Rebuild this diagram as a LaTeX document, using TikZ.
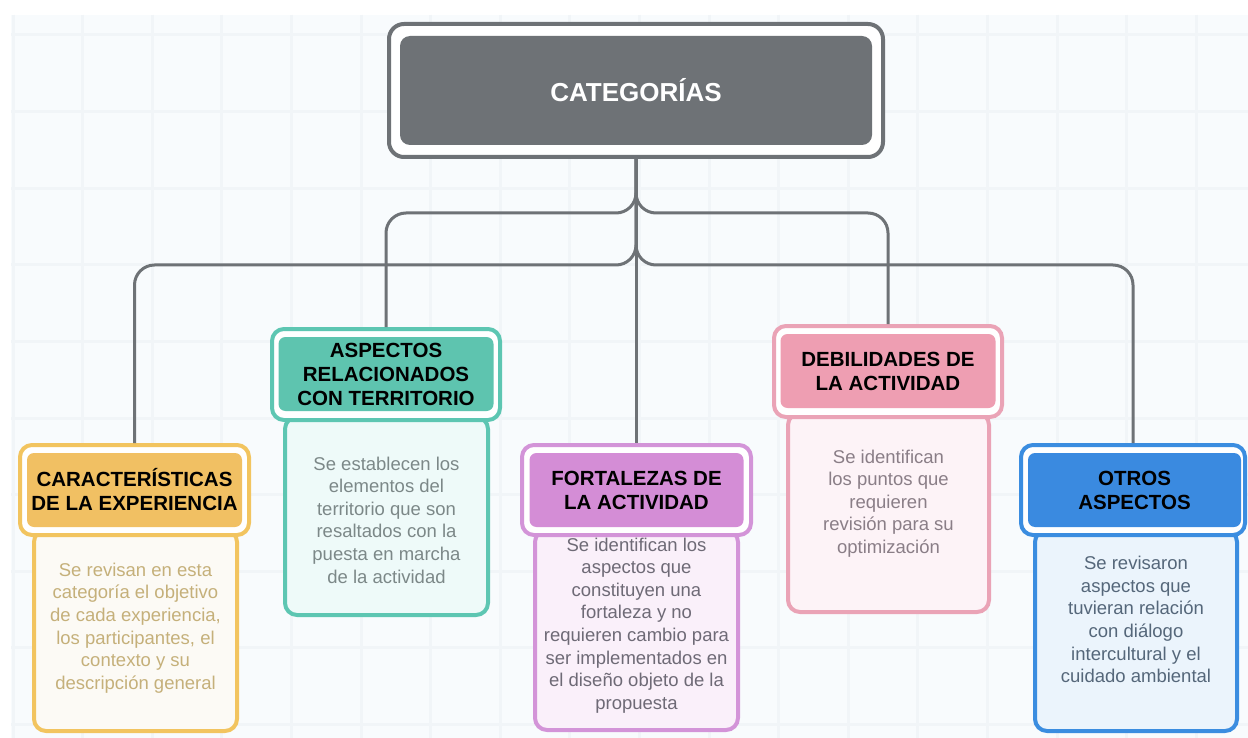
\documentclass[tikz,border=0pt]{standalone}
\usepackage{fontspec}
\setmainfont{Liberation Sans}
\definecolor{lineg}{HTML}{6E7276}
\definecolor{bgc}{HTML}{F8FBFD}
\definecolor{gridc}{HTML}{F1F5F8}
\definecolor{goldB}{HTML}{F2C45F}
\definecolor{goldF}{HTML}{F1C063}
\definecolor{goldBg}{HTML}{FCFAF5}
\definecolor{goldT}{HTML}{C5B07A}
\definecolor{tealB}{HTML}{5DC6B2}
\definecolor{tealF}{HTML}{5EC4AF}
\definecolor{tealBg}{HTML}{EEFAF9}
\definecolor{tealT}{HTML}{7C8888}
\definecolor{purB}{HTML}{D394D8}
\definecolor{purF}{HTML}{D48DD6}
\definecolor{purBg}{HTML}{FAF0FA}
\definecolor{purT}{HTML}{6E6A76}
\definecolor{pinkB}{HTML}{EAA3B6}
\definecolor{pinkF}{HTML}{EE9EB2}
\definecolor{pinkBg}{HTML}{FDF3F7}
\definecolor{pinkT}{HTML}{8A7E87}
\definecolor{bluB}{HTML}{3B8DE0}
\definecolor{bluF}{HTML}{3A8AE0}
\definecolor{bluBg}{HTML}{EBF4FC}
\definecolor{bluT}{HTML}{55677A}
\newcommand\headfont{\bfseries\fontsize{20.5}{24}\selectfont}
\newcommand\descfont{\fontsize{18.5}{22.6}\selectfont}
\begin{document}
\begin{tikzpicture}[x=1pt,y=-1pt,
  conn/.style={draw=lineg, line width=3pt, rounded corners=20pt},
  frame/.style={draw=#1, line width=4pt, fill=white, rounded corners=12pt, inner sep=0pt},
  head/.style={fill=#1, rounded corners=7pt, inner sep=0pt, align=center, font=\headfont, text=black},
  descbox/.style={draw=#1, line width=4pt, rounded corners=12pt, inner sep=0pt},
  desctext/.style={align=center, font=\descfont, text=#1, inner sep=0pt},
]
\useasboundingbox (0,0) rectangle (1248,738);
\fill[white] (0,0) rectangle (1248,738);
\fill[bgc] (11,15) rectangle (1248,738);
\foreach \i in {0,...,17} { \draw[gridc, line width=3pt] ({13+69.6*\i},15) -- ++(0,723); }
\foreach \j in {0,...,9} { \draw[gridc, line width=3pt] (11,{35+76.6*\j}) -- (1248,{35+76.6*\j}); }

% top
\node[frame=lineg, rounded corners=15pt, minimum width=494pt, minimum height=133pt] (top) at (636,90.5) {};
\node[fill=lineg, rounded corners=10pt, inner sep=0pt, minimum width=472pt, minimum height=109pt,
  text=white, font=\bfseries\fontsize{26}{30}\selectfont] (topH) at (636,90.5) {CATEGORÍAS};

% 1 Caracteristicas
\node[descbox=goldB, fill=goldBg, minimum width=203pt, minimum height=201pt] (carD) at (135.5,630.5) {};
\node[frame=goldB, minimum width=229pt, minimum height=90pt] (car) at (134.5,490) {};
\node[head=goldF, minimum width=215pt, minimum height=74pt] (carH) at (134.5,490) {CARACTERÍSTICAS\\DE LA EXPERIENCIA};
\node[desctext=goldT] (carT) at (135.5,628) {Se revisan en esta\\categoría el objetivo\\de cada experiencia,\\los participantes, el\\contexto y su\\descripción general};

% 2 Aspectos
\node[descbox=tealB, fill=tealBg, minimum width=203pt, minimum height=198pt] (aspD) at (386.5,516) {};
\node[frame=tealB, minimum width=228pt, minimum height=91pt] (asp) at (386,374.5) {};
\node[head=tealF, minimum width=215pt, minimum height=74pt] (aspH) at (386,374) {ASPECTOS\\RELACIONADOS\\CON TERRITORIO};
\node[desctext=tealT] (aspT) at (386.5,520) {Se establecen los\\elementos del\\territorio que son\\resaltados con la\\puesta en marcha\\de la actividad};

% 3 Fortalezas
\node[descbox=purB, fill=purBg, minimum width=203pt, minimum height=200pt] (forD) at (636.5,630) {};
\node[frame=purB, minimum width=229pt, minimum height=90pt] (for) at (636.5,490) {};
\node[head=purF, minimum width=214pt, minimum height=74pt] (forH) at (636.5,490) {FORTALEZAS DE\\LA ACTIVIDAD};
\node[desctext=purT] (forT) at (636.5,625.5) {Se identifican los\\aspectos que\\constituyen una\\fortaleza y no\\requieren cambio para\\ser implementados en\\el diseño objeto de la\\propuesta};

% 4 Debilidades
\node[descbox=pinkB, fill=pinkBg, minimum width=201pt, minimum height=199pt] (debD) at (888.5,512.5) {};
\node[frame=pinkB, minimum width=228pt, minimum height=91pt] (deb) at (888,371.5) {};
\node[head=pinkF, minimum width=215pt, minimum height=74pt] (debH) at (888,371) {DEBILIDADES DE\\LA ACTIVIDAD};
\node[desctext=pinkT] (debT) at (888.5,503.5) {Se identifican\\los puntos que\\requieren\\revisión para su\\optimización};

% 5 Otros
\node[descbox=bluB, fill=bluBg, minimum width=202pt, minimum height=201pt] (otrD) at (1136,630.5) {};
\node[frame=bluB, minimum width=224pt, minimum height=90pt] (otr) at (1133,490) {};
\node[head=bluF, minimum width=213pt, minimum height=74pt] (otrH) at (1134.5,490) {OTROS\\ASPECTOS};
\node[desctext=bluT] (otrT) at (1136,619.5) {Se revisaron\\aspectos que\\tuvieran relación\\con diálogo\\intercultural y el\\cuidado ambiental};

% connectors
\draw[conn] (top.south) -- ++(0,54) -| (asp.north);
\draw[conn] (top.south) -- ++(0,54) -| (deb.north);
\draw[conn] (top.south) -- ++(0,106) -| (car.north);
\draw[conn] (top.south) -- ++(0,106) -| (otr.north);
\draw[conn] (top.south) -- (top.south |- for.north);
\end{tikzpicture}
\end{document}
